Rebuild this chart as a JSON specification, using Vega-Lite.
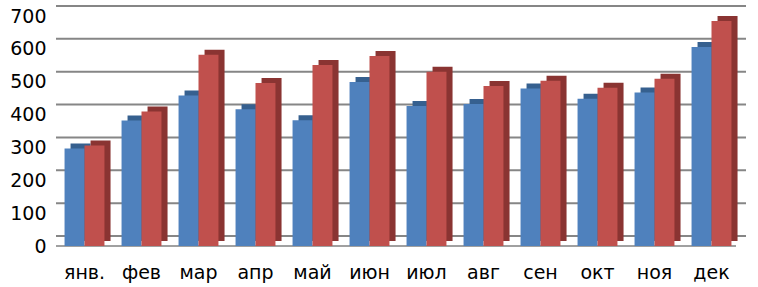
{
  "$schema": "https://vega.github.io/schema/vega-lite/v6.json",
  "width": 684,
  "height": 230,
  "autosize": "none",
  "padding": {"left": 56, "top": 16, "right": 18, "bottom": 41},
  "background": "white",
  "config": {
    "view": {"stroke": null},
    "font": "DejaVu Sans",
    "axisY": {"labelOverlap": false, "labelFontSize": 19, "labelColor": "#000000",
              "labelPadding": 10, "labelFont": "DejaVu Sans", "domain": false,
              "ticks": false, "grid": false, "title": null, "tickCount": 8,
              "values": [0, 100, 200, 300, 400, 500, 600, 700]},
    "axisX": {"labelFontSize": 19, "labelColor": "#000000", "labelPadding": 17,
              "labelFont": "DejaVu Sans", "domain": false, "ticks": false,
              "grid": false, "title": null, "labelAngle": 0}
  },
  "datasets": {
    "sales": [
      {"month": "янв.", "series": "Ряд1", "value": 297},
      {"month": "янв.", "series": "Ряд2", "value": 306},
      {"month": "фев", "series": "Ряд1", "value": 382},
      {"month": "фев", "series": "Ряд2", "value": 409},
      {"month": "мар", "series": "Ряд1", "value": 458},
      {"month": "мар", "series": "Ряд2", "value": 582},
      {"month": "апр", "series": "Ряд1", "value": 416},
      {"month": "апр", "series": "Ряд2", "value": 496},
      {"month": "май", "series": "Ряд1", "value": 383},
      {"month": "май", "series": "Ряд2", "value": 551},
      {"month": "июн", "series": "Ряд1", "value": 499},
      {"month": "июн", "series": "Ряд2", "value": 578},
      {"month": "июл", "series": "Ряд1", "value": 426},
      {"month": "июл", "series": "Ряд2", "value": 530},
      {"month": "авг", "series": "Ряд1", "value": 432},
      {"month": "авг", "series": "Ряд2", "value": 487},
      {"month": "сен", "series": "Ряд1", "value": 479},
      {"month": "сен", "series": "Ряд2", "value": 503},
      {"month": "окт", "series": "Ряд1", "value": 448},
      {"month": "окт", "series": "Ряд2", "value": 482},
      {"month": "ноя", "series": "Ряд1", "value": 467},
      {"month": "ноя", "series": "Ряд2", "value": 509},
      {"month": "дек", "series": "Ряд1", "value": 606},
      {"month": "дек", "series": "Ряд2", "value": 685}
    ],
    "grid": [
      {"v": 0}, {"v": 100}, {"v": 200}, {"v": 300},
      {"v": 400}, {"v": 500}, {"v": 600}, {"v": 700}
    ]
  },
  "layer": [
    {
      "data": {"name": "grid"},
      "mark": {"type": "rule", "stroke": "#868686", "strokeWidth": 2, "yOffset": -10, "xOffset": 6},
      "encoding": {
        "y": {"field": "v", "type": "quantitative", "scale": {"domain": [0, 700], "nice": false},
              "axis": {"values": [0, 100, 200, 300, 400, 500, 600, 700], "labelOverlap": false}}
      }
    },
    {
      "data": {"values": [{"v": 0}]},
      "mark": {"type": "rule", "stroke": "#a0a0a0", "strokeWidth": 2, "xOffset": -4},
      "encoding": {
        "y": {"field": "v", "type": "quantitative",
              "axis": {"values": [0, 100, 200, 300, 400, 500, 600, 700], "labelOverlap": false}}
      }
    },
    {
      "data": {"name": "sales"},
      "mark": {"type": "bar", "yOffset": -5},
      "encoding": {
        "x": {"field": "month", "type": "nominal", "sort": null,
              "scale": {"paddingInner": 0.3, "paddingOuter": 0.15}},
        "xOffset": {"field": "series", "type": "nominal", "scale": {"range": [6, 46]}},
        "y": {"field": "value", "type": "quantitative",
              "axis": {"values": [0, 100, 200, 300, 400, 500, 600, 700], "labelOverlap": false}},
        "color": {"field": "series", "type": "nominal",
                  "scale": {"domain": ["Ряд1", "Ряд2"], "range": ["#36608f", "#8a3432"]},
                  "legend": null}
      }
    },
    {
      "data": {"name": "sales"},
      "mark": {"type": "bar"},
      "encoding": {
        "x": {"field": "month", "type": "nominal", "sort": null},
        "xOffset": {"field": "series", "type": "nominal"},
        "y": {"field": "value", "type": "quantitative",
              "axis": {"values": [0, 100, 200, 300, 400, 500, 600, 700], "labelOverlap": false}},
        "color": {"field": "series", "type": "nominal",
                  "scale": {"domain": ["Ряд1", "Ряд2"], "range": ["#4f81bd", "#c0504d"]},
                  "legend": null}
      }
    }
  ],
  "resolve": {"scale": {"color": "independent", "xOffset": "independent"}}
}
